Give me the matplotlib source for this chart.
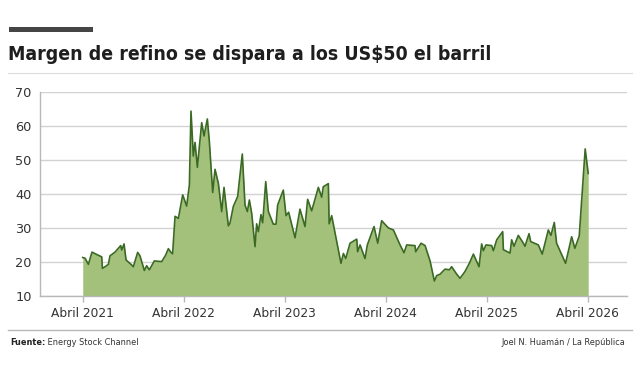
import matplotlib
matplotlib.use("Agg")
import matplotlib.pyplot as plt
from matplotlib.lines import Line2D
from matplotlib.patches import Rectangle
from matplotlib import font_manager as fm

# Time in decimal years, value in US$ per barrel
years = [
    2021.250, 2021.273, 2021.306, 2021.342, 2021.388, 2021.438, 2021.445, 2021.481,
    2021.504, 2021.520, 2021.570, 2021.626, 2021.636, 2021.659, 2021.679, 2021.735,
    2021.751, 2021.794, 2021.817, 2021.860, 2021.883, 2021.910, 2021.959, 2022.032,
    2022.071, 2022.098, 2022.124, 2022.140, 2022.164, 2022.197, 2022.240, 2022.279,
    2022.306, 2022.322, 2022.345, 2022.362, 2022.385, 2022.428, 2022.451, 2022.484,
    2022.504, 2022.537, 2022.560, 2022.593, 2022.626, 2022.649, 2022.692, 2022.708,
    2022.741, 2022.784, 2022.830, 2022.857, 2022.880, 2022.900, 2022.923, 2022.956,
    2022.972, 2022.989, 2023.015, 2023.032, 2023.062, 2023.088, 2023.137, 2023.164,
    2023.180, 2023.236, 2023.263, 2023.289, 2023.352, 2023.401, 2023.451, 2023.477,
    2023.517, 2023.583, 2023.616, 2023.632, 2023.682, 2023.690, 2023.715, 2023.807,
    2023.831, 2023.854, 2023.897, 2023.963, 2023.972, 2023.996, 2024.045, 2024.068,
    2024.134, 2024.171, 2024.210, 2024.276, 2024.326, 2024.392, 2024.431, 2024.458,
    2024.540, 2024.547, 2024.600, 2024.640, 2024.689, 2024.732, 2024.755, 2024.788,
    2024.837, 2024.880, 2024.903, 2024.953, 2024.986, 2025.035, 2025.078, 2025.118,
    2025.174, 2025.200, 2025.217, 2025.243, 2025.299, 2025.316, 2025.349, 2025.408,
    2025.415, 2025.481, 2025.497, 2025.520, 2025.563, 2025.613, 2025.629, 2025.669,
    2025.685, 2025.761, 2025.800, 2025.860, 2025.886, 2025.919, 2025.942, 2026.031,
    2026.091, 2026.123, 2026.166, 2026.225, 2026.255,
]
margin = [
    21.3, 21.1, 19.3, 22.9, 22.2, 21.5, 18.1, 18.8,
    19.3, 21.8, 22.9, 24.8, 23.5, 25.3, 20.6, 19.1,
    18.6, 22.8, 21.8, 17.5, 18.9, 17.7, 20.3, 20.1,
    22.0, 23.9, 22.8, 22.4, 33.4, 32.8, 39.7, 36.4,
    42.6, 64.3, 51.1, 55.1, 47.8, 60.9, 57.0, 62.0,
    55.3, 40.4, 47.2, 43.1, 34.8, 41.9, 30.6, 31.4,
    36.3, 39.2, 51.7, 36.7, 34.8, 38.2, 34.3, 24.5,
    31.2, 28.9, 33.9, 31.5, 43.6, 34.8, 31.1, 31.1,
    36.7, 41.1, 33.6, 34.6, 27.1, 35.5, 30.4, 38.4,
    35.0, 41.9, 39.0, 42.1, 43.0, 31.2, 33.6, 19.6,
    22.5, 21.0, 25.5, 26.7, 23.0, 25.0, 21.0, 25.0,
    30.4, 25.5, 32.1, 30.0, 29.4, 25.0, 22.7, 25.0,
    24.8, 23.0, 25.5, 24.8, 20.3, 14.4, 16.0, 16.4,
    17.9, 17.7, 18.6, 16.4, 15.2, 17.2, 19.6, 22.3,
    18.6, 25.3, 23.3, 25.0, 24.8, 23.3, 26.5, 28.9,
    23.6, 22.6, 26.5, 24.6, 27.8, 25.5, 24.6, 28.3,
    26.0, 25.0, 22.3, 29.4, 27.8, 31.6, 25.5, 19.6,
    27.4, 24.0, 27.6, 53.2, 46.0,
]

x_ticks = [2021.25, 2022.25, 2023.25, 2024.25, 2025.25, 2026.25]
x_labels = ["Abril 2021", "Abril 2022", "Abril 2023", "Abril 2024", "Abril 2025", "Abril 2026"]
y_ticks = [10, 20, 30, 40, 50, 60, 70]

title = "Margen de refino se dispara a los US$50 el barril"
source_label = "Fuente:"
source_text = " Energy Stock Channel"
credit = "Joel N. Huamán / La República"

W, H = 640, 374
fig = plt.figure(figsize=(W / 100, H / 100), dpi=100)
fig.patch.set_facecolor("white")

def fx(px):
    return px / W

def fy(py):
    return 1 - py / H

ax = fig.add_axes([fx(40), fy(296), fx(627) - fx(40), fy(91.7) - fy(296)])
ax.set_xlim(2020.827, 2026.639)
ax.set_ylim(10, 70)

ax.fill_between(years, margin, 10, color="#a4c17c", linewidth=0, zorder=2)
ax.plot(years, margin, color="#3b6a24", linewidth=1.2, zorder=3)

for s in ["top", "right"]:
    ax.spines[s].set_visible(False)
ax.spines["left"].set_color("#b8b8b8")
ax.spines["left"].set_linewidth(1.0)
ax.spines["bottom"].set_color("#b8b8b8")
ax.spines["bottom"].set_linewidth(1.0)

ax.set_yticks(y_ticks)
ax.set_yticklabels([str(v) for v in y_ticks])
ax.set_xticks(x_ticks)
ax.set_xticklabels(x_labels)
ax.tick_params(axis="y", length=0, pad=6, labelsize=9.3, labelcolor="#333333")
ax.tick_params(axis="x", length=4, width=1.0, color="#b8b8b8", pad=4,
               labelsize=8.8, labelcolor="#333333")
ax.grid(axis="y", color="#d2d2d2", linewidth=1.0, zorder=1)
ax.set_axisbelow(True)

# decorative bar above title
fig.patches.append(Rectangle((fx(9), fy(32)), fx(93) - fx(9), fy(27.3) - fy(32),
                             transform=fig.transFigure, facecolor="#454545",
                             edgecolor="none"))

cond = dict(family="DejaVu Sans", stretch="condensed")
ttl = fig.text(fx(8), fy(59.5), title, fontsize=17, fontweight="bold",
               color="#1e1e1e", va="baseline", ha="left", **cond)
fig.canvas.draw()
w = ttl.get_window_extent().width
ttl.set_fontsize(17 * 481 / w)

fig.add_artist(Line2D([fx(8), fx(632)], [fy(73), fy(73)], color="#dcdcdc",
                      linewidth=0.8, transform=fig.transFigure))
fig.add_artist(Line2D([fx(8), fx(632)], [fy(330), fy(330)], color="#b8b8b8",
                      linewidth=1.0, transform=fig.transFigure))

t1 = fig.text(fx(10), fy(342.7), source_label, fontsize=6.6, fontweight="bold",
              color="#222222", va="center", ha="left", **cond)
fig.canvas.draw()
bb = t1.get_window_extent()
fig.text(bb.x1 / W, fy(342.7), source_text, fontsize=6.6,
         color="#333333", va="center", ha="left", **cond)
fig.text(fx(625), fy(342.7), credit, fontsize=6.6,
         color="#333333", va="center", ha="right", **cond)

fig.savefig("out.png", dpi=100, facecolor="white")
